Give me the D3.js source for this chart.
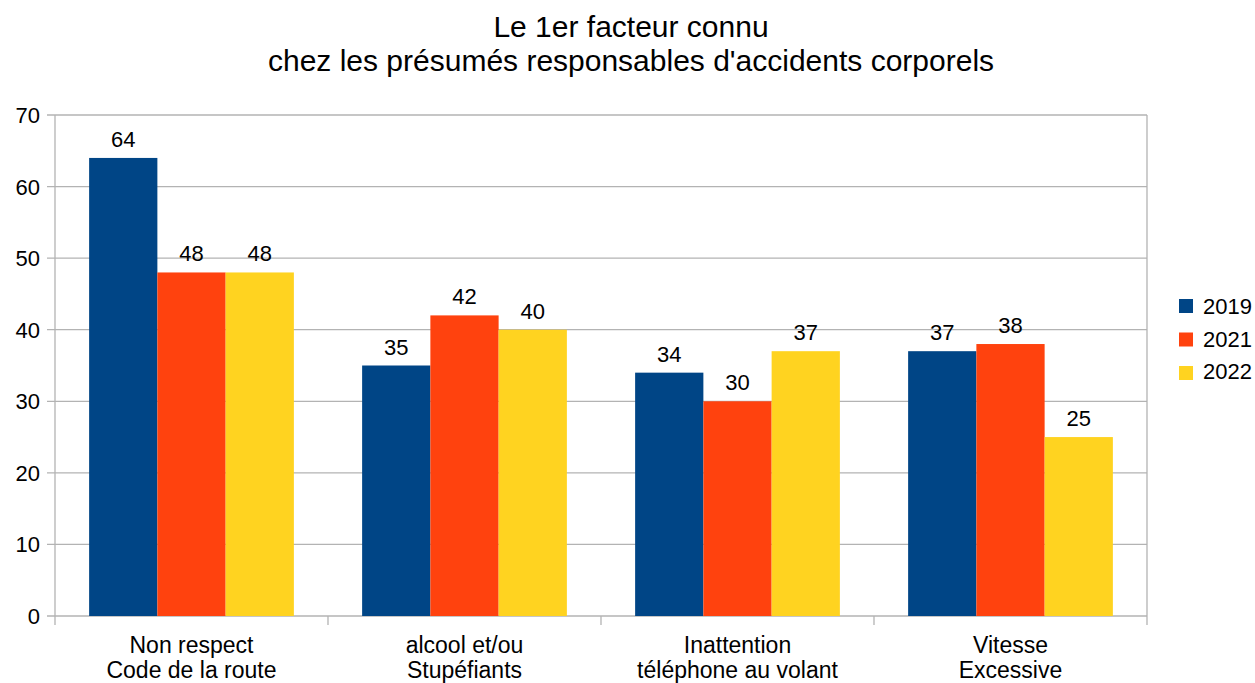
<!DOCTYPE html>
<html>
<head>
<meta charset="utf-8">
<script src="https://cdn.jsdelivr.net/npm/d3@7"></script>
<style>
  body { margin: 0; background: #fff; }
  svg text { font-family: "Liberation Sans", Arial, sans-serif; fill: #000; }
</style>
</head>
<body>
<svg width="1255" height="683"></svg>
<script>
// data
const categories = [["Non respect", "Code de la route"], ["alcool et/ou", "Stupéfiants"], ["Inattention", "téléphone au volant"], ["Vitesse", "Excessive"]];
const series = ["2019", "2021", "2022"];
const v2019 = [64, 35, 34, 37];
const v2021 = [48, 42, 30, 38];
const v2022 = [48, 40, 37, 25];
const yTicks = [0, 10, 20, 30, 40, 50, 60, 70];
const colors = ["#004586", "#ff420e", "#ffd320"];

const values = [v2019, v2021, v2022];
const svg = d3.select("svg");
const plotL = 55, plotR = 1147, plotT = 115, plotB = 616;

const x0 = d3.scaleBand().domain(d3.range(categories.length)).range([plotL, plotR]);
// bars leave half a bar of space at each side of the group
const x1 = d3.scaleBand().domain(series).range([x0.bandwidth() / 8, x0.bandwidth() * 7 / 8]);
const y = d3.scaleLinear().domain([0, 70]).range([plotB, plotT]);

// grid
svg.append("g").selectAll("line").data(yTicks).enter().append("line")
  .attr("x1", plotL - 8).attr("x2", plotR)
  .attr("y1", d => y(d)).attr("y2", d => y(d))
  .attr("stroke", "#b3b3b3").attr("stroke-width", 1.3);

// y labels
svg.append("g").selectAll("text").data(yTicks).enter().append("text")
  .attr("x", 40).attr("y", d => y(d) + 8)
  .attr("text-anchor", "end").attr("font-size", 22)
  .text(d => d);

// frame / category separators
[plotL, plotR].forEach(xx => {
  svg.append("line").attr("x1", xx).attr("x2", xx).attr("y1", plotT).attr("y2", plotB + 9)
    .attr("stroke", "#b3b3b3").attr("stroke-width", 1.3);
});
svg.append("g").selectAll("line").data(d3.range(1, categories.length)).enter().append("line")
  .attr("x1", d => x0(d)).attr("x2", d => x0(d))
  .attr("y1", plotB).attr("y2", plotB + 9)
  .attr("stroke", "#b3b3b3").attr("stroke-width", 1.3);

// bars
series.forEach((s, si) => {
  const g = svg.append("g");
  g.selectAll("rect").data(values[si]).enter().append("rect")
    .attr("x", (d, i) => x0(i) + x1(s))
    .attr("y", d => y(d))
    .attr("width", x1.bandwidth())
    .attr("height", d => plotB - y(d))
    .attr("fill", colors[si]);
  g.selectAll("text").data(values[si]).enter().append("text")
    .attr("x", (d, i) => x0(i) + x1(s) + x1.bandwidth() / 2)
    .attr("y", d => y(d) - 11)
    .attr("text-anchor", "middle").attr("font-size", 22)
    .text(d => d);
});

// category labels
categories.forEach((c, i) => {
  const t = svg.append("text").attr("text-anchor", "middle").attr("font-size", 23);
  c.forEach((line, li) => {
    t.append("tspan").attr("x", x0(i) + x0.bandwidth() / 2).attr("y", 653 + li * 25).text(line);
  });
});

// title
svg.append("text").attr("x", 631).attr("y", 37).attr("text-anchor", "middle").attr("font-size", 30).text("Le 1er facteur connu");
svg.append("text").attr("x", 631).attr("y", 71).attr("text-anchor", "middle").attr("font-size", 30).text("chez les présumés responsables d'accidents corporels");

// legend
series.forEach((s, si) => {
  svg.append("rect").attr("x", 1179).attr("y", 299 + si * 33.5).attr("width", 14).attr("height", 14).attr("fill", colors[si]);
  svg.append("text").attr("x", 1203).attr("y", 314 + si * 32.5).attr("font-size", 22).text(s);
});
</script>
</body>
</html>
